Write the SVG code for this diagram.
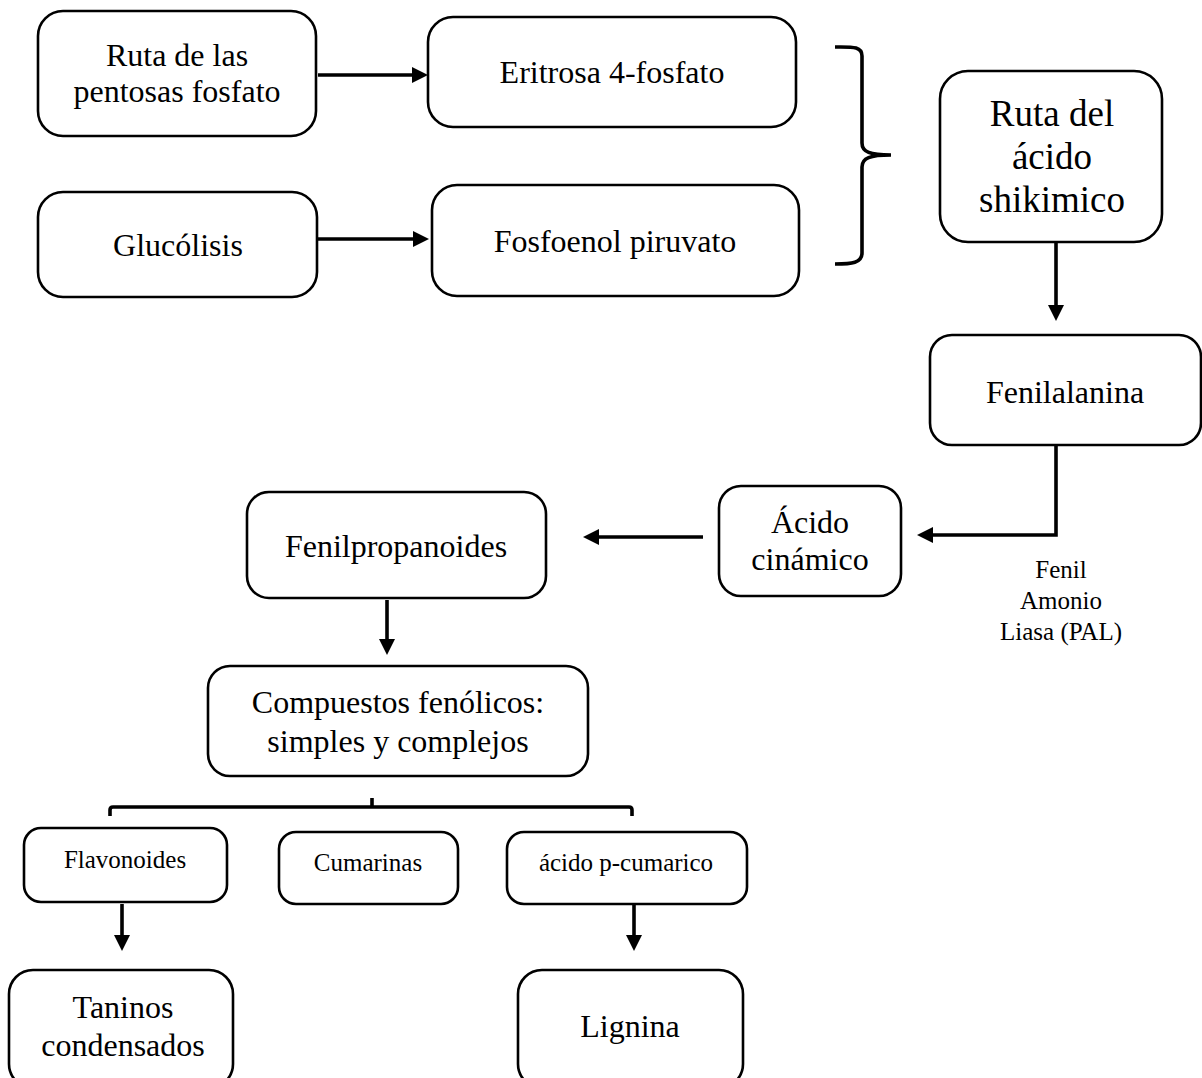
<svg xmlns="http://www.w3.org/2000/svg" width="1202" height="1078" viewBox="0 0 1202 1078">
<style>
.box{fill:#fff;stroke:#000;stroke-width:2.6}
.t{font-family:"Liberation Serif","Times New Roman",serif;fill:#000;text-anchor:middle}
.f32{font-size:32px}
.f37{font-size:37px}
.f26{font-size:25px}
.f25{font-size:24px}
.ln{fill:none;stroke:#000;stroke-width:3.6}
</style>
<defs>
<marker id="ah" markerUnits="userSpaceOnUse" markerWidth="17" markerHeight="16" refX="0" refY="8" orient="auto">
<path d="M0,0 L16,8 L0,16 Z" fill="#000"/>
</marker>
</defs>
<rect width="1202" height="1078" fill="#fff"/>

<g id="n-pentosas">
<rect class="box" x="38" y="11" width="278" height="125" rx="25"/>
<text class="t f32" x="177" y="66">Ruta de las</text>
<text class="t f32" x="177" y="102">pentosas fosfato</text>
</g>
<g id="n-glucolisis">
<rect class="box" x="38" y="192" width="279" height="105" rx="25"/>
<text class="t f32" x="178" y="256">Glucólisis</text>
</g>
<g id="n-eritrosa">
<rect class="box" x="428" y="17" width="368" height="110" rx="25"/>
<text class="t f32" x="612" y="83">Eritrosa 4-fosfato</text>
</g>
<g id="n-fosfoenol">
<rect class="box" x="432" y="185" width="367" height="111" rx="25"/>
<text class="t f32" x="615" y="252">Fosfoenol piruvato</text>
</g>
<g id="n-brace">
<path class="ln" d="M835,47 C852,47 862,46 862,56 V143 C862,152 870,155 891,155 C870,155 862,158 862,167 V253 C862,263 852,264 835,264"/>
</g>
<g id="n-shikimico">
<rect class="box" x="940" y="71" width="222" height="171" rx="28"/>
<text class="t f37" x="1052" y="126">Ruta del</text>
<text class="t f37" x="1052" y="169">ácido</text>
<text class="t f37" x="1052" y="212">shikimico</text>
</g>
<g id="n-fenilalanina">
<rect class="box" x="930" y="335" width="271" height="110" rx="22"/>
<text class="t f32" x="1065" y="403">Fenilalanina</text>
</g>
<g id="n-cinamico">
<rect class="box" x="719" y="486" width="182" height="110" rx="22"/>
<text class="t f32" x="810" y="533">Ácido</text>
<text class="t f32" x="810" y="570">cinámico</text>
</g>
<g id="n-pal">
<text class="t f26" x="1061" y="578">Fenil</text>
<text class="t f26" x="1061" y="609">Amonio</text>
<text class="t f26" x="1061" y="640">Liasa (PAL)</text>
</g>
<g id="n-fenilpropanoides">
<rect class="box" x="247" y="492" width="299" height="106" rx="22"/>
<text class="t f32" x="396" y="557">Fenilpropanoides</text>
</g>
<g id="n-compuestos">
<rect class="box" x="208" y="666" width="380" height="110" rx="22"/>
<text class="t f32" x="398" y="713">Compuestos fenólicos:</text>
<text class="t f32" x="398" y="752">simples y complejos</text>
</g>
<g id="n-bracket">
<path class="ln" d="M110,816 V810 Q110,807 113,807 H629 Q632,807 632,810 V816 M372,798 V807"/>
</g>
<g id="n-flavonoides">
<rect class="box" x="24" y="828" width="203" height="74" rx="17"/>
<text class="t f26" x="125" y="868">Flavonoides</text>
</g>
<g id="n-cumarinas">
<rect class="box" x="279" y="832" width="179" height="72" rx="17"/>
<text class="t f26" x="368" y="871">Cumarinas</text>
</g>
<g id="n-pcumarico">
<rect class="box" x="507" y="832" width="240" height="72" rx="17"/>
<text class="t f26" x="626" y="871">ácido p-cumarico</text>
</g>
<g id="n-taninos">
<rect class="box" x="9" y="970" width="224" height="118" rx="24"/>
<text class="t f32" x="123" y="1018">Taninos</text>
<text class="t f32" x="123" y="1056">condensados</text>
</g>
<g id="n-lignina">
<rect class="box" x="518" y="970" width="225" height="118" rx="24"/>
<text class="t f32" x="630" y="1037">Lignina</text>
</g>

<g id="connectors">
<path class="ln" marker-end="url(#ah)" d="M318,75 H412"/>
<path class="ln" marker-end="url(#ah)" d="M318,239 H413"/>
<path class="ln" marker-end="url(#ah)" d="M1056,242 V305"/>
<path class="ln" marker-end="url(#ah)" d="M1056,445 V535 H933"/>
<path class="ln" marker-end="url(#ah)" d="M703,537 H599"/>
<path class="ln" marker-end="url(#ah)" d="M387,600 V639"/>
<path class="ln" marker-end="url(#ah)" d="M122,904 V935"/>
<path class="ln" marker-end="url(#ah)" d="M634,904 V935"/>
</g>
</svg>
